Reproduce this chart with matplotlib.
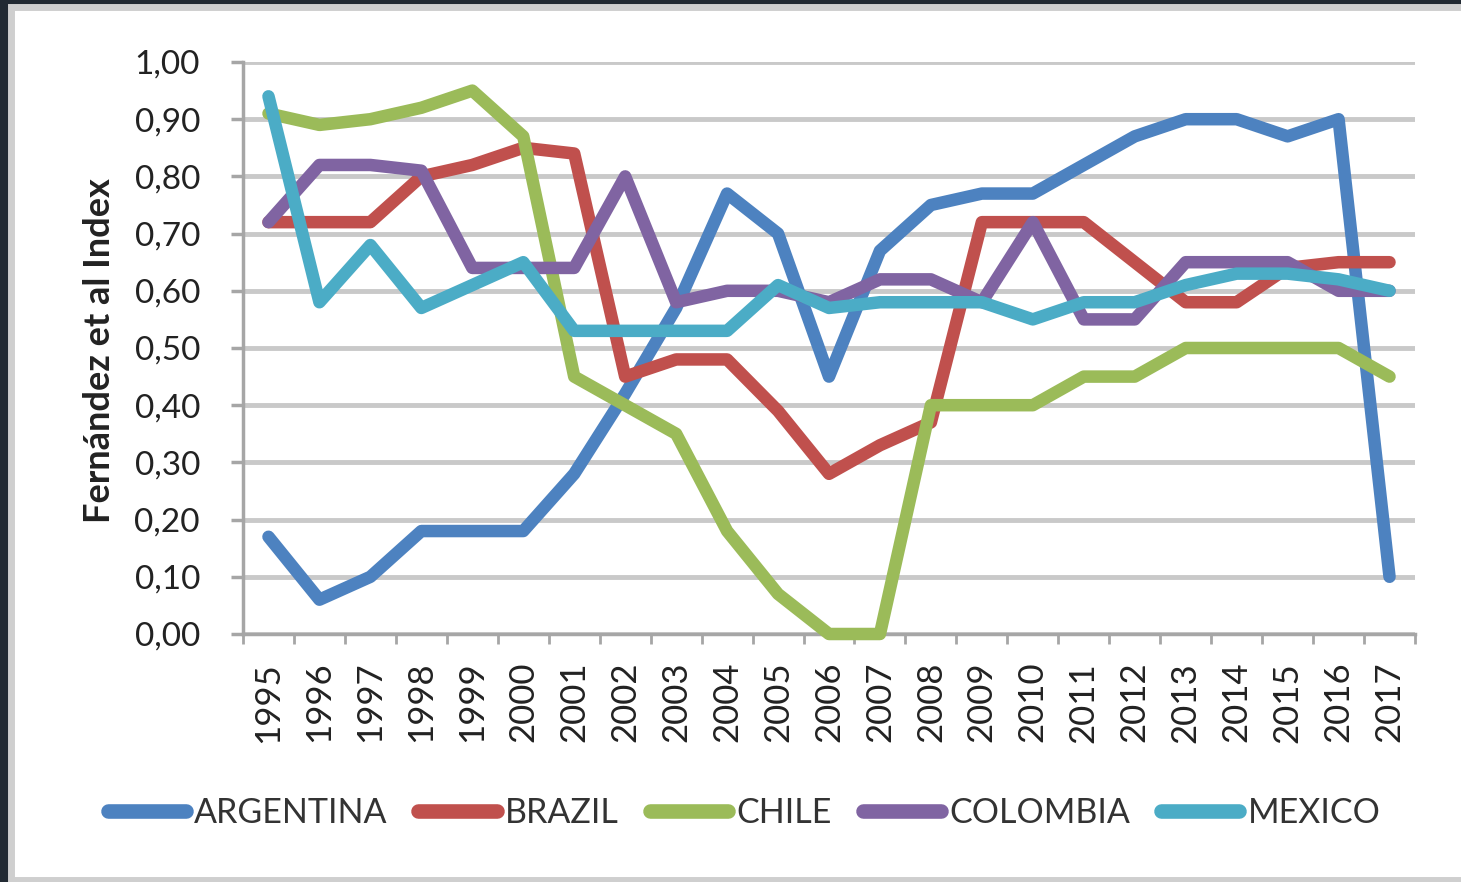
import matplotlib
matplotlib.use("Agg")
import matplotlib.pyplot as plt
from matplotlib.patches import Rectangle
import numpy as np

plt.rcParams['font.family'] = ['Lato', 'DejaVu Sans']

years = ['1995', '1996', '1997', '1998', '1999', '2000', '2001', '2002', '2003', '2004',
         '2005', '2006', '2007', '2008', '2009', '2010', '2011', '2012', '2013', '2014',
         '2015', '2016', '2017']

argentina = [0.17, 0.06, 0.10, 0.18, 0.18, 0.18, 0.28, 0.42, 0.57, 0.77, 0.70, 0.45,
             0.67, 0.75, 0.77, 0.77, 0.82, 0.87, 0.90, 0.90, 0.87, 0.90, 0.10]
brazil = [0.72, 0.72, 0.72, 0.80, 0.82, 0.85, 0.84, 0.45, 0.48, 0.48, 0.39, 0.28,
          0.33, 0.37, 0.72, 0.72, 0.72, 0.65, 0.58, 0.58, 0.64, 0.65, 0.65]
chile = [0.91, 0.89, 0.90, 0.92, 0.95, 0.87, 0.45, 0.40, 0.35, 0.18, 0.07, 0.00,
         0.00, 0.40, 0.40, 0.40, 0.45, 0.45, 0.50, 0.50, 0.50, 0.50, 0.45]
colombia = [0.72, 0.82, 0.82, 0.81, 0.64, 0.64, 0.64, 0.80, 0.58, 0.60, 0.60, 0.58,
            0.62, 0.62, 0.58, 0.72, 0.55, 0.55, 0.65, 0.65, 0.65, 0.60, 0.60]
mexico = [0.94, 0.58, 0.68, 0.57, 0.61, 0.65, 0.53, 0.53, 0.53, 0.53, 0.61, 0.57,
          0.58, 0.58, 0.58, 0.55, 0.58, 0.58, 0.61, 0.63, 0.63, 0.62, 0.60]

series_names = ['ARGENTINA', 'BRAZIL', 'CHILE', 'COLOMBIA', 'MEXICO']
series_colors = ['#4d82c0', '#c0504d', '#9bbb59', '#8064a2', '#4bacc6']

y_ticks = [0.0, 0.1, 0.2, 0.3, 0.4, 0.5, 0.6, 0.7, 0.8, 0.9, 1.0]
y_labels = ['0,00', '0,10', '0,20', '0,30', '0,40', '0,50', '0,60', '0,70', '0,80', '0,90', '1,00']
y_title = 'Fernández et al Index'

W, H = 1461, 882
fig = plt.figure(figsize=(W / 100, H / 100), dpi=100, facecolor='#222a33')

# white panel with light grey border
panel = Rectangle((11 / W, 2 / H), (W + 20) / W, (H - 9) / H, transform=fig.transFigure,
                  facecolor='white', edgecolor='#cfcfcf', linewidth=5, zorder=-5)
fig.patches.append(panel)

ax = fig.add_axes([243 / W, 1 - 634 / H, (1415 - 243) / W, (634 - 62) / H])
ax.set_facecolor('none')
ax.set_zorder(2)

x = np.arange(len(years))
data = [argentina, brazil, chile, colombia, mexico]
for vals, name, col in zip(data, series_names, series_colors):
    ax.plot(x, vals, color=col, lw=9, solid_joinstyle='round', solid_capstyle='round',
            label=name, zorder=3, clip_on=False)

ax.set_xlim(-0.5, len(years) - 0.5)
ax.set_ylim(0, 1.0)

ax.set_yticks(y_ticks)
ax.set_yticklabels(y_labels)
ax.yaxis.grid(True, color='#c9c9c9', lw=3.5, zorder=1)
ax.set_axisbelow(True)

ax.set_xticks(x)
ax.set_xticklabels(years, rotation=90)
ax.set_xticks(np.arange(-0.5, len(years), 1.0), minor=True)
ax.tick_params(axis='x', which='major', length=0, pad=20, labelsize=25, labelcolor='#222222')
ax.tick_params(axis='x', which='minor', length=7, width=2, color='#a6a6a6', direction='out')
ax.tick_params(axis='y', which='major', length=9, width=2.5, color='#a6a6a6', direction='out',
               pad=22, labelsize=24, labelcolor='#222222')

for s in ['top', 'right']:
    ax.spines[s].set_visible(False)
for s in ['left', 'bottom']:
    ax.spines[s].set_color('#a6a6a6')
    ax.spines[s].set_linewidth(2.5)

ax.set_ylabel(y_title, fontsize=26, fontweight='bold', color='#222222')
ax.yaxis.set_label_coords(-0.108, 0.495)

leg = fig.legend(loc='center', bbox_to_anchor=(744 / W, 1 - 813 / H), ncol=5, frameon=False,
                 fontsize=24.5, handlelength=2.3, handletextpad=0.25, columnspacing=0.9)
for t in leg.get_texts():
    t.set_color('#333333')
for lh in leg.get_lines():
    lh.set_linewidth(10.5)

fig.savefig('out.png', dpi=100, facecolor=fig.get_facecolor())
